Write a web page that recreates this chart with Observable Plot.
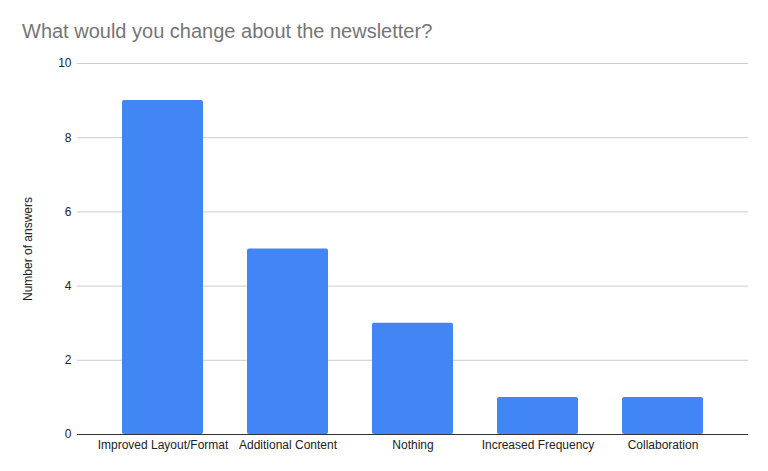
<!DOCTYPE html>
<html>
<head>
<meta charset="utf-8">
<script src="https://cdn.jsdelivr.net/npm/d3@7"></script>
<script src="https://cdn.jsdelivr.net/npm/@observablehq/plot@0.6"></script>
<style>
  html, body { margin: 0; padding: 0; background: #fff; }
  #title {
    font-family: Arial, "Liberation Sans", sans-serif;
    font-size: 20px; line-height: 20px; color: #757575;
    height: 52px; box-sizing: border-box; padding: 20.5px 0 0 22px;
    white-space: nowrap;
  }
</style>
</head>
<body>
<div id="title">What would you change about the newsletter?</div>
<div id="chart"></div>
<script>
const categories = ["Improved Layout/Format", "Additional Content", "Nothing", "Increased Frequency", "Collaboration"];
const answers = [9, 5, 3, 1, 1];
const yTicks = [0, 2, 4, 6, 8, 10];

const data = categories.map((c, i) => ({category: c, value: answers[i]}));

const chart = Plot.plot({
  width: 768,
  height: 419,
  marginTop: 11,
  marginBottom: 37,
  marginLeft: 77,
  marginRight: 20,
  style: {fontFamily: "Arial, 'Liberation Sans', sans-serif", fontSize: "12px", color: "#222", background: "#fff"},
  x: {domain: categories, padding: 0.35},
  y: {domain: [0, 10]},
  marks: [
    Plot.gridY(yTicks, {stroke: "#cccccc", strokeOpacity: 1}),
    Plot.barY(data, {x: "category", y: "value", fill: "#4285f4", rx: 2}),
    Plot.ruleY([0], {stroke: "#333", strokeWidth: 1}),
    Plot.axisY(yTicks, {tickSize: 0, tickPadding: 6, label: "Number of answers", labelAnchor: "center", labelOffset: 54, labelArrow: false}),
    Plot.axisX({tickSize: 0, tickPadding: 6, label: null})
  ]
});
document.getElementById("chart").appendChild(chart);
</script>
</body>
</html>
